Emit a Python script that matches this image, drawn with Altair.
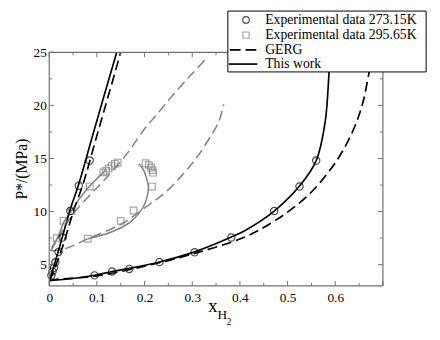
import altair as alt
import pandas as pd

# ---------------- data ----------------
# Experimental data 273.15 K (circles)
exp273_x = [0.095, 0.132, 0.168, 0.231, 0.305, 0.382, 0.472, 0.525, 0.560,
            0.0045, 0.007, 0.0099, 0.0128, 0.0195, 0.028, 0.044, 0.062, 0.085]
exp273_p = [3.99, 4.36, 4.60, 5.25, 6.17, 7.56, 10.05, 12.36, 14.80,
            3.99, 4.36, 4.70, 5.22, 6.20, 7.55, 10.05, 12.43, 14.80]

# Experimental data 295.65 K (squares)
exp295_x = [0.016, 0.030, 0.047, 0.085, 0.1135, 0.119, 0.1245, 0.131, 0.1375, 0.1437,
            0.081, 0.150, 0.177, 0.2157, 0.2177, 0.2165, 0.2136, 0.209, 0.202]
exp295_p = [7.50, 9.13, 10.05, 12.36, 13.69, 13.84, 14.06, 14.30, 14.50, 14.62,
            7.44, 9.13, 10.10, 12.36, 13.66, 13.90, 14.15, 14.40, 14.55]

# GERG 273.15 K
gerg273_bub_x = [0.0, 0.009, 0.1, 0.2, 0.3, 0.41, 0.479, 0.548, 0.603, 0.637, 0.657, 0.671, 0.680]
gerg273_bub_p = [3.50, 3.58, 3.95, 4.85, 6.00, 7.60, 9.30, 11.75, 14.80, 17.60, 20.10, 23.10, 25.0]
gerg273_dew_x = [0.0, 0.007, 0.016, 0.026, 0.037, 0.052, 0.071, 0.099, 0.124, 0.150]
gerg273_dew_p = [3.50, 4.10, 5.20, 6.40, 8.00, 10.20, 12.60, 17.00, 20.90, 25.0]

# This work 273.15 K
tw273_bub_x = [0.0, 0.05, 0.095, 0.132, 0.168, 0.231, 0.305, 0.382, 0.41, 0.472, 0.525, 0.560, 0.579, 0.587, 0.590]
tw273_bub_p = [3.50, 3.70, 4.00, 4.35, 4.65, 5.25, 6.20, 7.60, 8.20, 10.05, 12.40, 14.80, 18.50, 23.10, 25.0]
tw273_dew_x = [0.0, 0.005, 0.012, 0.020, 0.030, 0.044, 0.062, 0.090, 0.115, 0.1416]
tw273_dew_p = [3.50, 4.10, 5.20, 6.40, 8.00, 10.20, 12.60, 17.00, 20.90, 25.0]

# GERG 295.65 K
gerg295_bub_x = [0.003, 0.033, 0.081, 0.150, 0.205, 0.246, 0.280, 0.308, 0.340, 0.356, 0.366]
gerg295_bub_p = [6.30, 6.50, 7.44, 8.80, 10.50, 11.90, 13.50, 15.00, 17.20, 18.50, 20.10]
gerg295_dew_x = [0.003, 0.020, 0.047, 0.080, 0.116, 0.164, 0.200, 0.225, 0.260, 0.300, 0.327]
gerg295_dew_p = [6.30, 7.60, 9.60, 11.30, 13.00, 15.50, 17.80, 19.10, 21.00, 23.00, 24.30]

# This work 295.65 K
tw295_bub_x = [0.081, 0.129, 0.170, 0.198, 0.206, 0.208, 0.205, 0.198, 0.188]
tw295_bub_p = [7.44, 8.05, 9.00, 10.50, 11.50, 12.40, 13.00, 13.90, 14.50]
tw295_dew_x = [0.005, 0.0195, 0.030, 0.047, 0.065, 0.085, 0.100, 0.118]
tw295_dew_p = [6.60, 7.74, 8.95, 10.10, 11.30, 12.40, 13.10, 13.90]

x_major = [0.0, 0.1, 0.2, 0.3, 0.4, 0.5, 0.6, 0.7]
x_minor = [0.05, 0.15, 0.25, 0.35, 0.45, 0.55, 0.65]
x_labels = [0.0, 0.1, 0.2, 0.3, 0.4, 0.5, 0.6]
y_major = [5, 10, 15, 20, 25]
y_minor = [7.5, 12.5, 17.5, 22.5]

legend_labels = ["Experimental data 273.15K", "Experimental data 295.65K", "GERG", "This work"]

# ---------------- chart ----------------
W, H = 340, 238
FONT = "Liberation Serif, Times New Roman, serif"
GRAY = "#808080"
FRAME = "#707070"

xs = alt.Scale(domain=[0, 0.7], nice=False, zero=False)
ys = alt.Scale(domain=[3, 25], nice=False, zero=False)
xaxis = alt.Axis(values=x_labels, format=".1~f", domain=False, ticks=False, grid=False,
                 labelFont=FONT, labelFontSize=13.5, labelColor="black", labelPadding=5,
                 labelFlush=False, labelOverlap=False, title=None)
yaxis = alt.Axis(values=y_major, format="d", domain=False, ticks=False, grid=False,
                 labelFont=FONT, labelFontSize=13.5, labelColor="black", labelPadding=3,
                 labelFlush=False, labelOverlap=False, title=None)


def curve_df(xv, pv):
    return pd.DataFrame({"x": xv, "p": pv, "i": list(range(len(xv)))})


def line_layer(xv, pv, color, dash=None, width=1.6):
    kw = dict(color=color, strokeWidth=width, interpolate="catmull-rom", clip=True)
    if dash:
        kw["strokeDash"] = dash
    return alt.Chart(curve_df(xv, pv)).mark_line(**kw).encode(
        x=alt.X("x:Q", scale=xs, axis=xaxis),
        y=alt.Y("p:Q", scale=ys, axis=yaxis),
        order="i:Q",
    )


layers = []
DASH = [10, 5]
layers.append(line_layer(gerg295_bub_x, gerg295_bub_p, GRAY, DASH, 1.5))
layers.append(line_layer(gerg295_dew_x, gerg295_dew_p, GRAY, DASH, 1.5))
layers.append(line_layer(tw295_bub_x, tw295_bub_p, GRAY, None, 1.5))
layers.append(line_layer(tw295_dew_x, tw295_dew_p, GRAY, None, 1.5))
layers.append(line_layer(gerg273_bub_x, gerg273_bub_p, "black", DASH, 1.7))
layers.append(line_layer(gerg273_dew_x, gerg273_dew_p, "black", DASH, 1.7))
layers.append(line_layer(tw273_bub_x, tw273_bub_p, "black", None, 1.7))
layers.append(line_layer(tw273_dew_x, tw273_dew_p, "black", None, 1.7))

sq = alt.Chart(pd.DataFrame({"x": exp295_x, "p": exp295_p})).mark_point(
    shape="square", filled=False, color=GRAY, size=45, strokeWidth=1.2).encode(
    x=alt.X("x:Q", scale=xs, axis=xaxis), y=alt.Y("p:Q", scale=ys, axis=yaxis))
ci = alt.Chart(pd.DataFrame({"x": exp273_x, "p": exp273_p})).mark_point(
    shape="circle", filled=False, color="black", size=55, strokeWidth=1.2).encode(
    x=alt.X("x:Q", scale=xs, axis=xaxis), y=alt.Y("p:Q", scale=ys, axis=yaxis))
layers += [sq, ci]


# inward ticks on all four sides
def xticks(vals, y0, y1):
    return alt.Chart(pd.DataFrame({"x": vals})).mark_rule(color=FRAME, strokeWidth=1).encode(
        x=alt.X("x:Q", scale=xs, axis=xaxis), y=alt.value(y0), y2=alt.value(y1))


def yticks(vals, x0, x1):
    return alt.Chart(pd.DataFrame({"p": vals})).mark_rule(color=FRAME, strokeWidth=1).encode(
        y=alt.Y("p:Q", scale=ys, axis=yaxis), x=alt.value(x0), x2=alt.value(x1))


layers += [xticks(x_major, H, H - 5), xticks(x_minor, H, H - 3),
           xticks(x_major, 0, 5), xticks(x_minor, 0, 3),
           yticks(y_major, 0, 5), yticks(y_minor, 0, 3),
           yticks(y_major, W, W - 5), yticks(y_minor, W, W - 3)]

one = pd.DataFrame({"a": [0]})
# frame
layers += [
    alt.Chart(one).mark_rule(color=FRAME, strokeWidth=1.2).encode(x=alt.value(0), x2=alt.value(W), y=alt.value(0)),
    alt.Chart(one).mark_rule(color=FRAME, strokeWidth=1.2).encode(x=alt.value(0), x2=alt.value(W), y=alt.value(H)),
    alt.Chart(one).mark_rule(color=FRAME, strokeWidth=1.2).encode(x=alt.value(0), y=alt.value(0), y2=alt.value(H)),
    alt.Chart(one).mark_rule(color=FRAME, strokeWidth=1.2).encode(x=alt.value(W), y=alt.value(0), y2=alt.value(H)),
]

# legend
LX0, LX1, LY0, LY1 = 182, 384, -42, 20
rows = [-33, -17.5, -2.5, 12]
layers.append(alt.Chart(one).mark_rect(fill="white", stroke="black", strokeWidth=1).encode(
    x=alt.value(LX0), x2=alt.value(LX1), y=alt.value(LY0), y2=alt.value(LY1)))
layers.append(alt.Chart(one).mark_point(shape="circle", filled=False, color="black", size=45, strokeWidth=1.2).encode(
    x=alt.value(200.5), y=alt.value(rows[0])))
layers.append(alt.Chart(one).mark_point(shape="square", filled=False, color=GRAY, size=40, strokeWidth=1.2).encode(
    x=alt.value(200.5), y=alt.value(rows[1])))
layers.append(alt.Chart(one).mark_rule(color="black", strokeWidth=1.7, strokeDash=[11, 5]).encode(
    x=alt.value(184), x2=alt.value(212), y=alt.value(rows[2])))
layers.append(alt.Chart(one).mark_rule(color="black", strokeWidth=1.7).encode(
    x=alt.value(183), x2=alt.value(212), y=alt.value(rows[3])))
for lab, ry in zip(legend_labels, rows):
    layers.append(alt.Chart(one).mark_text(align="left", baseline="middle", font=FONT, fontSize=14,
                                           color="black").encode(
        x=alt.value(220), y=alt.value(ry), text=alt.value(lab)))

# axis titles
layers.append(alt.Chart(one).mark_text(angle=270, align="center", baseline="middle", font=FONT,
                                       fontSize=16, color="black").encode(
    x=alt.value(-28), y=alt.value(H / 2), text=alt.value("P*/(MPa)")))
layers.append(alt.Chart(one).mark_text(align="left", baseline="alphabetic", font=FONT, fontSize=19,
                                       color="black").encode(
    x=alt.value(162), y=alt.value(265), text=alt.value("x")))
layers.append(alt.Chart(one).mark_text(align="left", baseline="alphabetic", font=FONT, fontSize=13.5,
                                       color="black").encode(
    x=alt.value(171.5), y=alt.value(272), text=alt.value("H")))
layers.append(alt.Chart(one).mark_text(align="left", baseline="alphabetic", font=FONT, fontSize=9.5,
                                       color="black").encode(
    x=alt.value(181), y=alt.value(278), text=alt.value("2")))

chart = alt.layer(*layers).properties(
    width=W, height=H,
    autosize=alt.AutoSizeParams(type="none"),
    padding={"left": 42, "top": 42, "right": 50, "bottom": 52},
).configure_view(strokeWidth=0)

chart.save("out.html", embed_options={"renderer": "svg", "actions": False})
